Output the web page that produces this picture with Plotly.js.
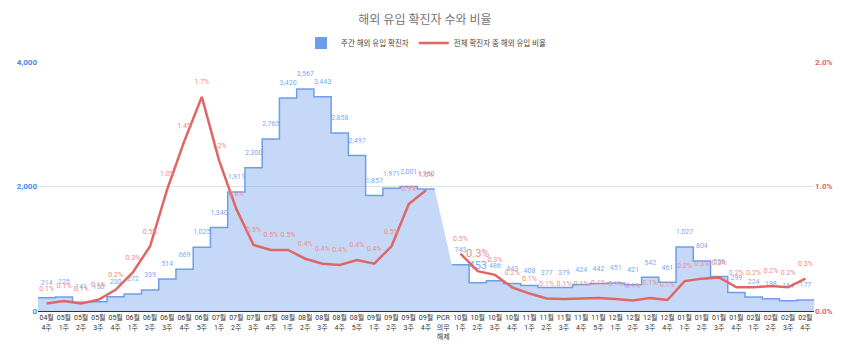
<!DOCTYPE html>
<html>
<head>
<meta charset="utf-8">
<script src="https://cdn.plot.ly/plotly-3.0.1.min.js"></script>
<style>html,body{margin:0;padding:0;background:#fff}#chart{width:850px;height:353px}</style>
</head>
<body>
<div id="chart"></div>
<script>
const categories = ['04월<br>4주','05월<br>1주','05월<br>2주','05월<br>3주','05월<br>4주','06월<br>1주','06월<br>2주','06월<br>3주','06월<br>4주','06월<br>5주','07월<br>1주','07월<br>2주','07월<br>3주','07월<br>4주','08월<br>1주','08월<br>2주','08월<br>3주','08월<br>4주','08월<br>5주','09월<br>1주','09월<br>2주','09월<br>3주','09월<br>4주','PCR<br>의무<br>해제','10월<br>1주','10월<br>2주','10월<br>3주','10월<br>4주','11월<br>1주','11월<br>2주','11월<br>3주','11월<br>4주','11월<br>5주','12월<br>1주','12월<br>2주','12월<br>3주','12월<br>4주','01월<br>1주','01월<br>2주','01월<br>3주','01월<br>4주','02월<br>1주','02월<br>2주','02월<br>3주','02월<br>4주'];
const weeklyImported = [214,225,141,150,230,272,339,514,669,1025,1340,1911,2300,2765,3420,3567,3443,2858,2497,1857,1971,2001,1960,null,743,453,486,443,408,377,379,424,442,451,421,542,461,1027,804,556,299,224,198,164,177];
const importedRatioPct = [0.06,0.08,0.06,0.09,0.17,0.31,0.52,0.98,1.37,1.72,1.21,0.82,0.53,0.49,0.49,0.42,0.38,0.37,0.41,0.38,0.52,0.86,0.97,null,0.46,0.32,0.29,0.19,0.14,0.10,0.096,0.10,0.105,0.096,0.084,0.105,0.088,0.24,0.26,0.27,0.19,0.19,0.20,0.19,0.26];
const seriesNames = ['주간 해외 유입 확진자','전체 확진자 중 해외 유입 비율'];
const highlightIndex = 25;

const idx = categories.map((_, i) => i);
const stepX = [], stepY = [];
weeklyImported.forEach((v, i) => {
  if (v === null) { stepX.push(i); stepY.push(null); return; }
  stepX.push(i - 0.5); stepY.push(v);
  const next = weeklyImported[i + 1];
  if (next === undefined || next === null) { stepX.push(i + 0.5); stepY.push(v); }
});

const FONT = "Roboto, 'Noto Sans CJK KR', sans-serif";
const sizes = idx.map(i => i === highlightIndex ? 11 : 7);

const traces = [
  {x: stepX, y: stepY, type: 'scatter', mode: 'lines', line: {shape: 'hv', color: '#6d9eeb', width: 1.5},
   fill: 'tozeroy', fillcolor: 'rgba(109,158,235,0.4)', connectgaps: false, showlegend: false, hoverinfo: 'skip'},
  {x: [null], y: [null], type: 'bar', marker: {color: '#6d9eeb'}, name: seriesNames[0], hoverinfo: 'skip'},
  {x: idx, y: importedRatioPct, type: 'scatter', mode: 'lines', yaxis: 'y2', line: {color: '#e06666', width: 2.5},
   connectgaps: false, name: seriesNames[1], hoverinfo: 'skip'},
  {x: idx, y: weeklyImported, type: 'scatter', mode: 'markers+text', marker: {size: 16, opacity: 0},
   text: weeklyImported.map(v => v === null ? '' : v.toLocaleString('en-US')), textposition: 'top center',
   textfont: {family: FONT, size: sizes, color: '#7baaf7'}, showlegend: false, hoverinfo: 'skip', cliponaxis: false},
  {x: idx, y: importedRatioPct, type: 'scatter', mode: 'markers+text', yaxis: 'y2', marker: {size: 16, opacity: 0},
   text: importedRatioPct.map(v => v === null ? '' : v.toFixed(1) + '%'), textposition: 'top center',
   textfont: {family: FONT, size: sizes, color: '#f28b82'}, showlegend: false, hoverinfo: 'skip', cliponaxis: false}
];

const layout = {
  width: 850, height: 353,
  margin: {l: 38, r: 36, t: 62, b: 42},
  paper_bgcolor: '#fff', plot_bgcolor: '#fff',
  font: {family: FONT, color: '#444'},
  title: {text: '해외 유입 확진자 수와 비율', font: {family: FONT, size: 12, color: '#757575'},
          x: 0.5, xanchor: 'center', y: 0.943, yanchor: 'middle'},
  showlegend: true,
  legend: {orientation: 'h', x: 0.5, xanchor: 'center', y: 1.076, yanchor: 'middle', itemwidth: 30,
           font: {family: FONT, size: 7.5, color: '#444'}},
  xaxis: {range: [-0.5, 44.5], tickmode: 'array', tickvals: idx, ticktext: categories, tickangle: 0,
          tickfont: {family: FONT, size: 7, color: '#333'}, showgrid: false, zeroline: false,
          showline: true, linecolor: '#333', linewidth: 1, ticks: '', fixedrange: true},
  yaxis: {range: [0, 4000], tickvals: [0, 2000, 4000], ticktext: ['0', '2,000', '4,000'],
          tickfont: {family: FONT, size: 8, color: '#4a86e8', weight: 'bold'}, gridcolor: '#e0e0e0',
          zeroline: false, showline: false, ticks: ''},
  yaxis2: {range: [0, 2], overlaying: 'y', side: 'right', tickvals: [0, 1, 2], ticktext: ['0.0%', '1.0%', '2.0%'],
           tickfont: {family: FONT, size: 8, color: '#e06666', weight: 'bold'}, showgrid: false, zeroline: false,
           showline: false, ticks: ''}
};

Plotly.newPlot('chart', traces, layout, {displayModeBar: false, staticPlot: true});
</script>
</body>
</html>
